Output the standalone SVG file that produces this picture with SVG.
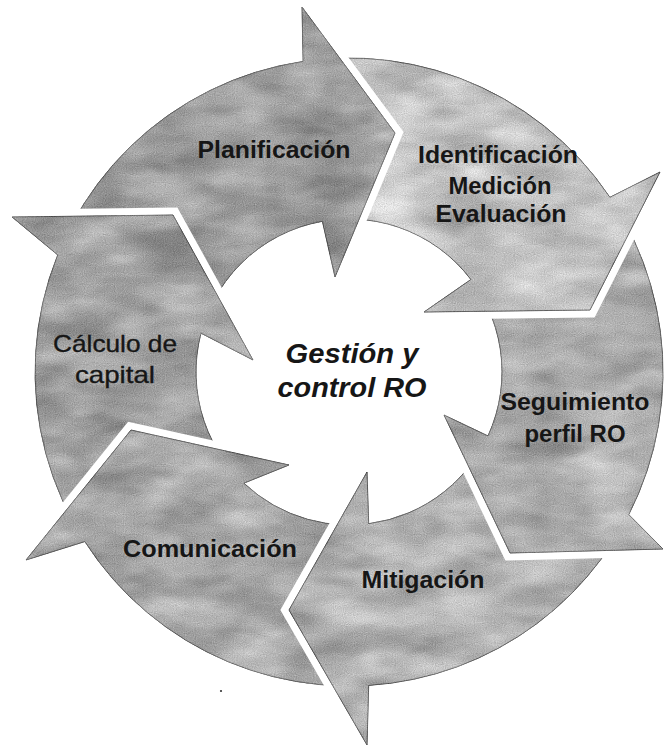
<svg xmlns="http://www.w3.org/2000/svg" width="665" height="750" viewBox="0 0 665 750">
<style>
  .seg{stroke:#606060;stroke-width:0.9;stroke-linejoin:miter;filter:url(#tex)}
  .cut{fill:#000;stroke:#000;stroke-width:15;stroke-linejoin:miter;stroke-miterlimit:10}
  .lbl{font-family:"Liberation Sans",Arial,Helvetica,sans-serif;font-weight:bold;font-size:23px;fill:#161616;text-anchor:middle}
  .reg{font-weight:normal;font-size:24px;stroke:#161616;stroke-width:0.35}
  .ctr{font-weight:bold;font-style:italic;font-size:27px}
</style>
<defs>
  <filter id="tex" x="-5%" y="-5%" width="110%" height="110%" color-interpolation-filters="sRGB">
    <feTurbulence type="fractalNoise" baseFrequency="0.014 0.035" numOctaves="3" seed="7" result="n1"/>
    <feColorMatrix in="n1" type="matrix" values="0.33 0.33 0.33 0 0  0.33 0.33 0.33 0 0  0.33 0.33 0.33 0 0  0 0 0 0 1" result="g1"/>
    <feTurbulence type="fractalNoise" baseFrequency="0.9" numOctaves="1" seed="3" result="n2"/>
    <feColorMatrix in="n2" type="matrix" values="0.33 0.33 0.33 0 0  0.33 0.33 0.33 0 0  0.33 0.33 0.33 0 0  0 0 0 0 1" result="g2"/>
    <feComposite in="SourceGraphic" in2="g1" operator="arithmetic" k1="0" k2="1" k3="0.7" k4="-0.35" result="m1"/>
    <feComposite in="m1" in2="g2" operator="arithmetic" k1="0" k2="1" k3="0.45" k4="-0.225" result="m2"/>
    <feComposite in="m2" in2="SourceAlpha" operator="in"/>
  </filter>
  <path id="s0" d="M 39.8,317.5 A 314,314 0 0 1 303.1,61.4 L 302,7 L 395,133 L 335,277 L 322.4,221.3 A 153,153 0 0 0 198.3,345.4 Z"/>
  <path id="s1" d="M 267.7,68.7 A 314,314 0 0 1 609.9,197.3 L 660,172 L 590,310 L 424,312 L 470.9,279.5 A 153,153 0 0 0 309.4,224.2 Z"/>
  <path id="s2" d="M 582.3,161.9 A 314,314 0 0 1 628.8,514.6 L 663,549 L 510,553 L 444,415 L 488.0,435.9 A 153,153 0 0 0 462.7,269.6 Z"/>
  <path id="s3" d="M 644.1,479.4 A 314,314 0 0 1 368.7,685.4 L 367,745 L 289,610 L 367,472 L 368.7,523.7 A 153,153 0 0 0 492.8,424.3 Z"/>
  <path id="s4" d="M 414.3,679.1 A 314,314 0 0 1 84.8,541.6 L 26,560 L 131,430 L 289,465 L 243.9,483.2 A 153,153 0 0 0 380.8,521.7 Z"/>
  <path id="s5" d="M 155.7,619.4 A 314,314 0 0 1 57.7,254.9 L 12,217 L 173,215 L 253,360 L 201.0,333.2 A 153,153 0 0 0 254.8,492.6 Z"/>
  <mask id="m0" maskUnits="userSpaceOnUse" x="0" y="0" width="665" height="750"><rect width="665" height="750" fill="#fff"/><use href="#s5" class="cut"/></mask>
  <mask id="m1" maskUnits="userSpaceOnUse" x="0" y="0" width="665" height="750"><rect width="665" height="750" fill="#fff"/><use href="#s0" class="cut"/></mask>
  <mask id="m2" maskUnits="userSpaceOnUse" x="0" y="0" width="665" height="750"><rect width="665" height="750" fill="#fff"/><use href="#s1" class="cut"/></mask>
  <mask id="m3" maskUnits="userSpaceOnUse" x="0" y="0" width="665" height="750"><rect width="665" height="750" fill="#fff"/><use href="#s2" class="cut"/></mask>
  <mask id="m4" maskUnits="userSpaceOnUse" x="0" y="0" width="665" height="750"><rect width="665" height="750" fill="#fff"/><use href="#s3" class="cut"/></mask>
  <mask id="m5" maskUnits="userSpaceOnUse" x="0" y="0" width="665" height="750"><rect width="665" height="750" fill="#fff"/><use href="#s4" class="cut"/></mask>
</defs>
<rect width="665" height="750" fill="#fff"/>
<g id="planificacion">
  <use href="#s0" class="seg" fill="#9e9e9e" mask="url(#m0)"/>
  <text class="lbl" x="274" y="158" textLength="153" lengthAdjust="spacingAndGlyphs">Planificación</text>
</g>
<g id="identificacion">
  <use href="#s1" class="seg" fill="#c2c2c2" mask="url(#m1)"/>
  <text class="lbl" x="498" y="163" textLength="160" lengthAdjust="spacingAndGlyphs">Identificación</text>
  <text class="lbl" x="500" y="194" textLength="103" lengthAdjust="spacingAndGlyphs">Medición</text>
  <text class="lbl" x="501" y="222" textLength="131" lengthAdjust="spacingAndGlyphs">Evaluación</text>
</g>
<g id="seguimiento">
  <use href="#s2" class="seg" fill="#adadad" mask="url(#m2)"/>
  <text class="lbl" x="575" y="410" textLength="149" lengthAdjust="spacingAndGlyphs">Seguimiento</text>
  <text class="lbl" x="575" y="442" textLength="101" lengthAdjust="spacingAndGlyphs">perfil RO</text>
</g>
<g id="mitigacion">
  <use href="#s3" class="seg" fill="#b4b4b4" mask="url(#m3)"/>
  <text class="lbl" x="423" y="588" textLength="123" lengthAdjust="spacingAndGlyphs">Mitigación</text>
</g>
<g id="comunicacion">
  <use href="#s4" class="seg" fill="#a8a8a8" mask="url(#m4)"/>
  <text class="lbl" x="210" y="557" textLength="174" lengthAdjust="spacingAndGlyphs">Comunicación</text>
</g>
<g id="calculo">
  <use href="#s5" class="seg" fill="#a2a2a2" mask="url(#m5)"/>
  <text class="lbl reg" x="115" y="352" textLength="124" lengthAdjust="spacingAndGlyphs">Cálculo de</text>
  <text class="lbl reg" x="115" y="383" textLength="80" lengthAdjust="spacingAndGlyphs">capital</text>
</g>
<g id="centro">
  <text class="lbl ctr" x="352" y="363" textLength="133" lengthAdjust="spacingAndGlyphs">Gestión y</text>
  <text class="lbl ctr" x="352" y="397" textLength="149" lengthAdjust="spacingAndGlyphs">control RO</text>
</g>
<circle cx="221" cy="691" r="1.1" fill="#333"/>
</svg>
